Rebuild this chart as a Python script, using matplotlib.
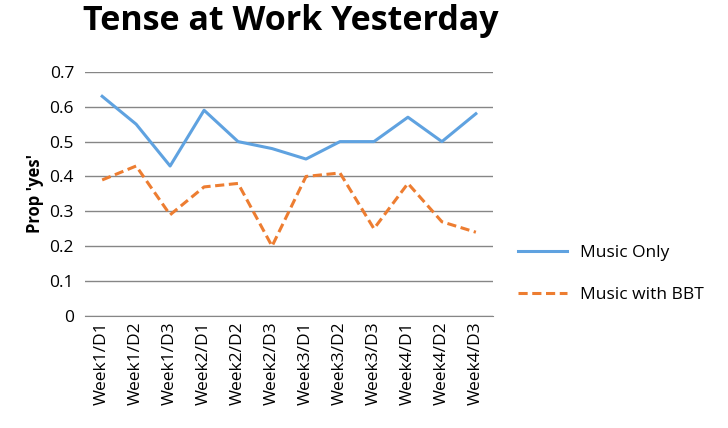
import matplotlib
matplotlib.use("Agg")
import matplotlib.pyplot as plt

plt.rcParams['font.family'] = ['Open Sans', 'DejaVu Sans']

categories = ["Week1/D1","Week1/D2","Week1/D3","Week2/D1","Week2/D2","Week2/D3",
              "Week3/D1","Week3/D2","Week3/D3","Week4/D1","Week4/D2","Week4/D3"]
music_only = [0.63,0.55,0.43,0.59,0.50,0.48,0.45,0.50,0.50,0.57,0.50,0.58]
music_bbt = [0.39,0.43,0.29,0.37,0.38,0.20,0.40,0.41,0.25,0.38,0.27,0.24]
yticks = [0,0.1,0.2,0.3,0.4,0.5,0.6,0.7]
ylabels = ["0","0.1","0.2","0.3","0.4","0.5","0.6","0.7"]

fig = plt.figure(figsize=(7.28,4.28), dpi=100)
ax = fig.add_axes([0.117,0.262,0.56,0.570])
x = list(range(len(categories)))
l1, = ax.plot(x, music_only, color='#5fa2e0', lw=2.2, label='Music Only')
l2, = ax.plot(x, music_bbt, color='#ed7d31', lw=2.2, ls=(0,(3,1.5)), label='Music with BBT')
ax.set_xlim(-0.5, 11.5)
ax.set_ylim(0, 0.7)
ax.set_yticks(yticks)
ax.set_yticklabels(ylabels, fontsize=12.5)
ax.set_xticks(x)
ax.set_xticklabels(categories, rotation=90, fontsize=12.5)
ax.grid(axis='y', color='#868686', lw=1)
ax.set_axisbelow(True)
for s in ['top','right','left']:
    ax.spines[s].set_visible(False)
ax.spines['bottom'].set_color('#868686')
ax.tick_params(axis='y', length=0, pad=8)
ax.tick_params(axis='x', length=0, pad=4)
ax.set_ylabel("Prop 'yes'", fontsize=12, fontweight='bold')
fig.suptitle("Tense at Work Yesterday", fontsize=24.5, fontweight='bold', x=0.4, y=0.99)
fig.legend(handles=[l1,l2], loc='center left', bbox_to_anchor=(0.69,0.36), frameon=False,
           fontsize=12.5, labelspacing=1.5, handlelength=2.8)
fig.savefig("out.png", dpi=100)
